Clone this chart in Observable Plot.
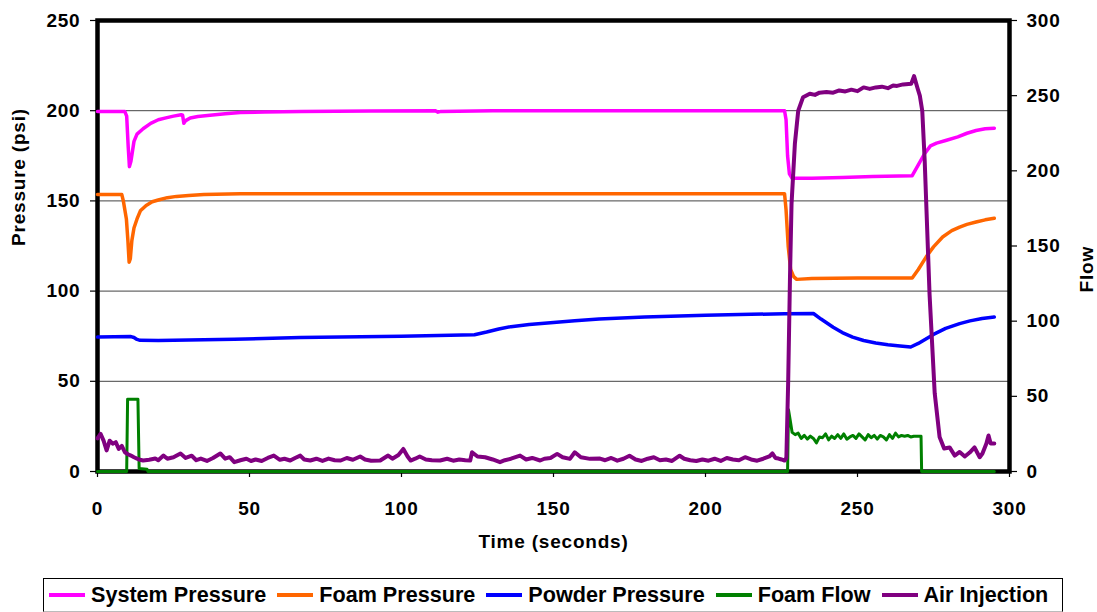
<!DOCTYPE html>
<html>
<head>
<meta charset="utf-8">
<script src="https://cdn.jsdelivr.net/npm/d3@7"></script>
<script src="https://cdn.jsdelivr.net/npm/@observablehq/plot@0.6"></script>
<style>
  html, body { margin: 0; padding: 0; background: #fff; }
  #wrap { position: relative; width: 1097px; height: 612px; font-family: "Liberation Sans", Arial, sans-serif; font-weight: bold; }
  #legend { position: absolute; left: 43px; top: 578px; width: 1020px; height: 34px; border: 1px solid #000; border-bottom-color: #bbb;
    display: flex; align-items: center; padding-left: 5px; gap: 11px; box-sizing: border-box; font-size: 21.6px; color: #000; white-space: nowrap; }
  .item { display: flex; align-items: center; }
  .sw { display: inline-block; width: 36px; height: 4px; margin-right: 6px; }
</style>
</head>
<body>
<div id="wrap"><div id="chart"></div><div id="legend"></div></div>
<script>
// ---- tick labels ----
const xTicks = [0, 50, 100, 150, 200, 250, 300];
const pressureTicks = [0, 50, 100, 150, 200, 250];
const flowTicks = [0, 50, 100, 150, 200, 250, 300];
const gridPressure = [50, 100, 150, 200];

// ---- series: [time (s), value] ----
const systemPressure = [
  [0,199.5],[9,199.5],[9.6,197],[10.1,180],[10.5,169],[11,172],[12,183],[13,187],[15,190],[17.5,193],[20,195],
  [22.5,196],[25,197],[27.5,197.8],[28,197.5],[28.4,193],[29,194.5],[30.5,196],[33,196.8],[37,197.5],[42,198.3],
  [47,199],[55,199.3],[67,199.6],[90,199.8],[111,200],[112,199.2],[113,199.6],[130,200],[226,200],[226.5,195],
  [227,175],[227.6,165],[228.5,162.5],[235,162.5],[245,163],[255,163.5],[268,164],[270,170],[272,176],[274,180.5],
  [276,182],[279,183.5],[283,185.5],[286,187.5],[289,189],[292,190],[295,190.3]
];
const foamPressure = [
  [0,153.5],[8,153.5],[8.5,150],[9.5,140],[10,128],[10.4,116],[10.8,118],[11.3,128],[12,135],[13,140],[14.1,144.5],
  [16,147.5],[18,149.5],[20,150.5],[23,151.8],[26,152.5],[30,153],[35,153.5],[47,154],[226,154],[226.5,145],
  [227.2,125],[228,112],[229,108],[230,106.5],[235,107],[250,107.2],[268,107.3],[270,112],[272.6,119],[275,124.5],
  [278,130],[281,133.5],[283.6,135.5],[286,137],[289,138.3],[292,139.5],[295,140.4]
];
const powderPressure = [
  [0,74.5],[11,74.8],[12,74.3],[13,73.2],[14,72.7],[20,72.6],[30,72.9],[45,73.3],[66.7,74.3],[100,75],[124,75.8],
  [128,77.3],[132,79],[136,80.3],[142,81.5],[149,82.5],[157,83.6],[165,84.6],[180,85.7],[200,86.6],[215,87.1],
  [226,87.5],[235.5,87.6],[238,84.5],[242,80],[245,77],[248.4,74.5],[252,72.6],[256,71.2],[260,70.3],[264,69.6],
  [267.5,69],[270,71],[272.5,73.5],[275,76],[279,79.3],[283.6,82],[287,83.5],[291,84.8],[295,85.6]
];
const foamFlow = [
  [0,0],[9.6,0],[9.9,48],[13.3,48],[13.7,2],[16.3,1.5],[16.6,0],[227,0],[227.3,41],[227.8,35],[228.5,26],
  [229.5,24.5],[230.5,25.5],[231.5,22],[232.5,24],[233.5,21.5],[234.5,23.5],[235.5,22],[236.5,19],[237.5,23],
  [238.5,22.5],[239.5,25],[240.5,21],[241.5,23.5],[242.5,22],[243.5,24.5],[244.5,22],[245.5,25],[246.5,21.5],
  [247.5,23],[248.5,24],[249.5,22],[250.5,25],[251.5,23],[252.5,21],[253.5,24.5],[254.5,22.5],[255.5,24],
  [256.5,21.5],[257.5,24],[258.5,23],[259.5,21],[260.5,24.5],[261.5,22],[262.5,25.5],[263.5,23],[264.5,24],
  [265.5,23.5],[266.5,24],[267.5,23],[268.5,23.5],[270,23.5],[270.9,23.5],[271.1,0],[295,0]
];
const airInjection = [
  [0,22],[1,25],[2,20.5],[3,14],[4,20.5],[5,18.5],[6,19.5],[7,15],[8,17],[9,12.8],[10,11.5],[11,10.6],[12,9.5],
  [13,8.6],[14,7.8],[15,7.3],[17,7.8],[19,8.6],[20,7.5],[21.7,10.6],[23,8.5],[25,9.5],[27.3,12],[29,9],[31,10.5],
  [32.5,7.5],[34,8.6],[36,7],[38,9],[40.4,12],[42,8.5],[43.5,9.5],[45,6.2],[47,7.5],[49,8.5],[50.5,7],[52,8],
  [54,7],[56,9],[58,10.6],[60,7.8],[61.5,8.5],[63.4,7.3],[65,9],[66.7,10.6],[68,8],[70,7.3],[72,8.5],[74,7],
  [76,8.6],[78,7.5],[80,7.3],[82,9],[84,7.8],[86.4,10],[88,8],[90,7.2],[93,7.3],[95.6,10.6],[97,8.5],[99,11],
  [100.6,15],[102,10],[103,7.3],[104.5,8.5],[106,10],[108,8],[110,7.5],[112.7,7.3],[115,8.5],[117,7.2],[119,8],
  [121,7.5],[122.6,7.3],[123.2,12.8],[125,10],[127.5,9.5],[130,8],[132.4,6.2],[134,7.5],[136,8.5],[139,10.6],
  [141,8],[143,9],[145.6,7.3],[147,8.5],[149,9],[151.2,11.7],[153,9.5],[155.4,8.4],[157,12.8],[159,9.5],[162,8.4],
  [165.3,8.6],[167,7.5],[169,9],[171,7.2],[173,8.5],[175,10.5],[177,8],[179,7],[181,8.5],[183,9.5],[185,7.5],
  [187,8],[189,7],[191.5,10.5],[193,8.5],[195,7.5],[197,7],[199,8],[201,7.2],[203,8.5],[205,7],[207,9],[209,8],
  [211,7.5],[213,9.5],[215,8],[217,7.2],[219,8.5],[221,10],[222,12],[223,9],[224,8.6],[225,8],[226,7.3],
  [226.6,9],[227.2,60],[227.8,130],[228.3,178],[229.4,218],[230.5,240],[232.1,249],[234.3,251.3],[236,250.5],
  [237.5,252],[239.8,252.4],[242,252],[244,253.5],[246,252.8],[248,254],[250,253],[252,255.5],[254,254.5],
  [256,255.5],[258,256],[260,255],[261.7,256.8],[263,256.5],[265,257.5],[267.7,258],[268.6,263],[269.8,254.6],
  [270.5,250],[271.3,240],[272.1,207],[273.7,118],[275.4,52],[277,23],[278.5,15.3],[280.3,16],[282,10.6],
  [283.6,13],[285.3,10],[286.9,12.6],[288.5,16],[290.2,9.5],[291.1,12],[292.4,18.6],[293.1,24],[293.8,18.6],[295,18.6]
];

const series = [
  {name: "System Pressure", color: "#FF00FF", data: systemPressure, axis: "p", width: 3.5},
  {name: "Foam Pressure", color: "#FF6600", data: foamPressure, axis: "p", width: 3.5},
  {name: "Powder Pressure", color: "#0000FF", data: powderPressure, axis: "p", width: 3.5},
  {name: "Foam Flow", color: "#008000", data: foamFlow, axis: "f", width: 3},
  {name: "Air Injection", color: "#800080", data: airInjection, axis: "f", width: 4}
];

// secondary axis: flow 0..300 shares the frame with pressure 0..250
const pMax = 250, fMax = 300;
const f2p = f => f * pMax / fMax;
const p2f = p => p * fMax / pMax;

const fs = 19;
const lineMarks = series.map(s => Plot.line(s.data, {
  x: d => d[0],
  y: d => s.axis === "p" ? d[1] : f2p(d[1]),
  stroke: s.color, strokeWidth: s.width, strokeLinejoin: "round", strokeLinecap: "round"
}));

const chart = Plot.plot({
  width: 1097, height: 565,
  marginLeft: 97, marginRight: 88, marginTop: 20, marginBottom: 94,
  x: {domain: [0, 300]},
  y: {domain: [0, pMax]},
  style: {fontFamily: "'Liberation Sans', Arial, sans-serif", fontWeight: "bold", color: "#000", background: "#fff", letterSpacing: "0.8px"},
  marks: [
    Plot.ruleY(gridPressure, {stroke: "#444", strokeWidth: 1}),
    Plot.frame({stroke: "#000", strokeWidth: 4.5}),
    Plot.axisX({ticks: xTicks, tickSize: 6, tickPadding: 24, label: null, fontSize: fs, strokeWidth: 1.2}),
    Plot.axisY({ticks: pressureTicks, tickSize: 7, tickPadding: 10, label: null, fontSize: fs, strokeWidth: 1.2}),
    Plot.axisY({anchor: "right", ticks: flowTicks.map(f2p), tickFormat: d => String(Math.round(p2f(d))),
      tickSize: 7, tickPadding: 10, label: null, fontSize: fs, strokeWidth: 1.2}),
    ...lineMarks,
    Plot.text(["Time (seconds)"], {frameAnchor: "bottom", dy: 76, fontSize: fs, fontWeight: "bold"}),
    Plot.text(["Pressure (psi)"], {frameAnchor: "left", dx: -79, rotate: -90, fontSize: fs, fontWeight: "bold"}),
    Plot.text(["Flow"], {frameAnchor: "right", dx: 77, rotate: -90, fontSize: fs, fontWeight: "bold"})
  ]
});
document.getElementById("chart").appendChild(chart);

const legend = document.getElementById("legend");
for (const s of series) {
  const it = document.createElement("div");
  it.className = "item";
  const sw = document.createElement("span");
  sw.className = "sw";
  sw.style.background = s.color;
  const tx = document.createElement("span");
  tx.textContent = s.name;
  it.appendChild(sw); it.appendChild(tx);
  legend.appendChild(it);
}
</script>
</body>
</html>
